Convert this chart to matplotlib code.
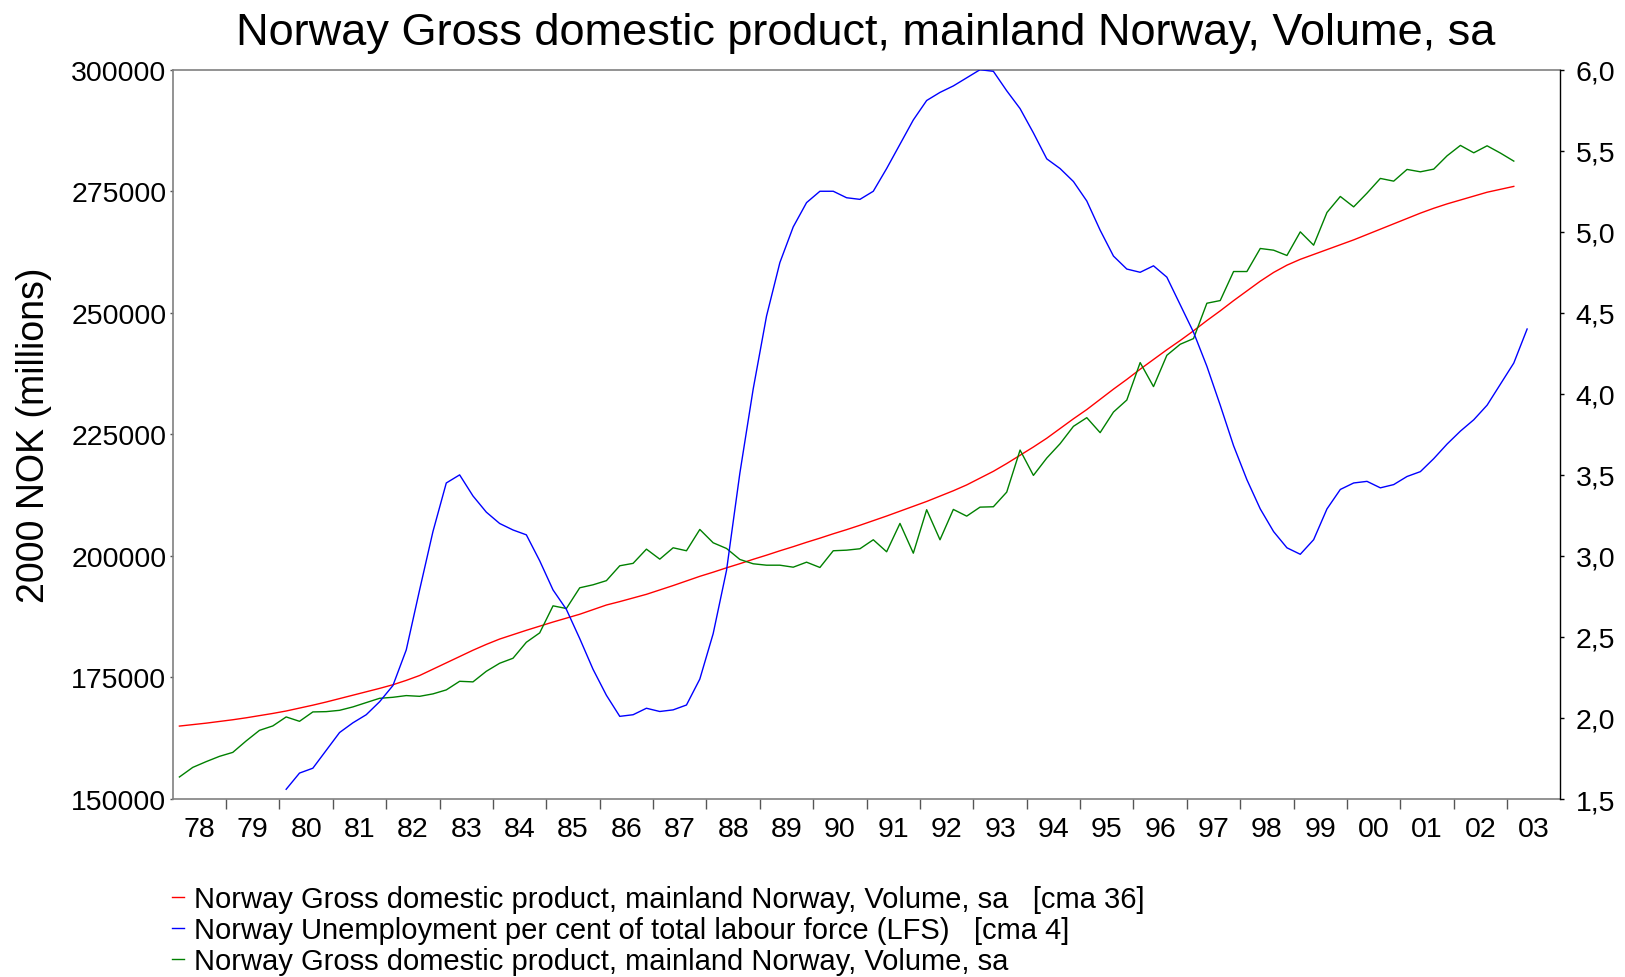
import numpy as np
import matplotlib
matplotlib.use("Agg")
import matplotlib.pyplot as plt
from matplotlib.ticker import FixedLocator, FuncFormatter, NullFormatter

plt.rcParams['font.family'] = ['Liberation Sans', 'DejaVu Sans']

# quarterly data, GDP series start 1978Q1, unemployment starts 1980Q1
gdp_start = 1978
unemp_start = 1980

gdp_cma36 = [
    165000, 165300, 165600, 165950, 166300, 166700, 167150, 167600, 168100, 168700,
    169300, 169950, 170650, 171350, 172050, 172750, 173500, 174400, 175400, 176700,
    178000, 179300, 180600, 181800, 182900, 183800, 184700, 185550, 186400, 187200,
    188000, 188950, 189900, 190600, 191350, 192100, 193000, 193900, 194850, 195800,
    196650, 197550, 198400, 199300, 200150, 201050, 201900, 202800, 203650, 204550,
    205400, 206300, 207250, 208200, 209200, 210200, 211200, 212300, 213400, 214600,
    216000, 217400, 219000, 220700, 222400, 224200, 226200, 228200, 230100, 232200,
    234300, 236300, 238400, 240400, 242400, 244300, 246300, 248400, 250400, 252500,
    254500, 256500, 258300, 259800, 261000, 262000, 263000, 264000, 265000, 266100,
    267200, 268300, 269400, 270500, 271500, 272400, 273200, 274000, 274800, 275400,
    276000]

gdp = [
    154530, 156500, 157680, 158770, 159590, 161940, 164120, 165030, 166880, 165980,
    167910, 167970, 168240, 168940, 169830, 170710, 170920, 171270, 171120, 171620,
    172440, 174210, 174090, 176270, 177920, 178950, 182240, 184170, 189730, 189180,
    193440, 194060, 194910, 197970, 198470, 201390, 199330, 201670, 201060, 205440,
    202700, 201530, 199270, 198380, 198090, 198090, 197680, 198710, 197620, 201060,
    201180, 201470, 203320, 200850, 206680, 200560, 209500, 203320, 209560, 208180,
    210030, 210110, 213120, 221770, 216560, 220120, 223080, 226650, 228430, 225350,
    229590, 232060, 239760, 234820, 241260, 243530, 244700, 251970, 252520, 258490,
    258490, 263230, 262880, 261790, 266650, 263910, 270640, 273930, 271790, 274610,
    277640, 277080, 279490, 279000, 279550, 282290, 284430, 282910, 284350, 282850,
    281200]

unemp_cma4 = [
    1.56, 1.66, 1.69, 1.80, 1.91, 1.97, 2.02, 2.10, 2.20, 2.42,
    2.79, 3.15, 3.45, 3.50, 3.37, 3.27, 3.20, 3.16, 3.13, 2.97,
    2.79, 2.67, 2.49, 2.30, 2.14, 2.01, 2.02, 2.06, 2.04, 2.05,
    2.08, 2.24, 2.52, 2.91, 3.51, 4.03, 4.48, 4.81, 5.03, 5.18,
    5.25, 5.25, 5.21, 5.20, 5.25, 5.39, 5.54, 5.69, 5.81, 5.86,
    5.90, 5.95, 6.00, 5.99, 5.87, 5.76, 5.61, 5.45, 5.39, 5.31,
    5.19, 5.01, 4.85, 4.77, 4.75, 4.79, 4.72, 4.55, 4.38, 4.17,
    3.93, 3.68, 3.47, 3.29, 3.15, 3.05, 3.01, 3.10, 3.29, 3.41,
    3.45, 3.46, 3.42, 3.44, 3.49, 3.52, 3.60, 3.69, 3.77, 3.84,
    3.93, 4.06, 4.19, 4.40]

year_labels = ['78', '79', '80', '81', '82', '83', '84', '85', '86', '87', '88', '89', '90',
               '91', '92', '93', '94', '95', '96', '97', '98', '99', '00', '01', '02', '03']

title = 'Norway Gross domestic product, mainland Norway, Volume, sa'
labels = ['Norway Gross domestic product, mainland Norway, Volume, sa   [cma 36]',
          'Norway Unemployment per cent of total labour force (LFS)   [cma 4]',
          'Norway Gross domestic product, mainland Norway, Volume, sa']

# quarter midpoints
x_gdp = gdp_start + (np.arange(len(gdp)) + 0.5) / 4
x_unemp = unemp_start + (np.arange(len(unemp_cma4)) + 0.5) / 4

fig = plt.figure(figsize=(16.25, 9.78), dpi=100)
ax = fig.add_axes([0.1063, 0.1820, 0.8540, 0.7457])
ax2 = ax.twinx()

l_red, = ax.plot(x_gdp, gdp_cma36, color='#ff0000', lw=1.0)
l_green, = ax.plot(x_gdp, gdp, color='#008000', lw=1.0)
l_blue, = ax2.plot(x_unemp, unemp_cma4, color='#0000ff', lw=1.0)

ax.set_xlim(1978, 2004)
ax.set_ylim(150000, 300000)
ax2.set_ylim(1.5, 6.0)

# x axis: ticks at year boundaries, labels centred in each year
ax.xaxis.set_major_locator(FixedLocator(np.arange(1979, 2004)))
ax.xaxis.set_major_formatter(NullFormatter())
ax.xaxis.set_minor_locator(FixedLocator(np.arange(1978, 2004) + 0.5))
ax.xaxis.set_minor_formatter(FuncFormatter(lambda v, p: year_labels[int(v - 1978)]))
ax.tick_params(axis='x', which='major', direction='out', length=7.5, width=1, color='#555555')
ax.tick_params(axis='x', which='minor', length=0, pad=12, labelsize=20.5)

ax.set_yticks(np.arange(150000, 300001, 25000))
ax.yaxis.set_major_formatter(FuncFormatter(lambda v, p: '%d' % v))
ax.tick_params(axis='y', direction='out', length=2.5, width=1, color='#555555', pad=2, labelsize=20.5)

ax2.set_yticks(np.arange(1.5, 6.01, 0.5))
ax2.yaxis.set_major_formatter(FuncFormatter(lambda v, p: ('%.1f' % v).replace('.', ',')))
ax2.tick_params(axis='y', direction='out', length=3, width=1, color='black', pad=8, labelsize=20.5)

for s in ['left', 'top', 'bottom']:
    ax.spines[s].set_color('#808080')
    ax.spines[s].set_linewidth(1.2)
    ax2.spines[s].set_visible(False)
ax.spines['right'].set_visible(False)
ax2.spines['right'].set_color('black')
ax2.spines['right'].set_linewidth(1.0)

fig.text(0.5329, 0.954, title, ha='center', va='baseline', fontsize=32.5)
fig.text(0.0209, 0.5552, '2000 NOK (millions)', ha='center', va='center', rotation=90, fontsize=27)

fig.legend([l_red, l_blue, l_green], labels, loc='upper left', bbox_to_anchor=(0.1058, 0.0936),
           frameon=False, borderpad=0, borderaxespad=0, handlelength=0.42, handletextpad=0.35,
           labelspacing=0.1, fontsize=21)

fig.savefig('out.png', dpi=100)
